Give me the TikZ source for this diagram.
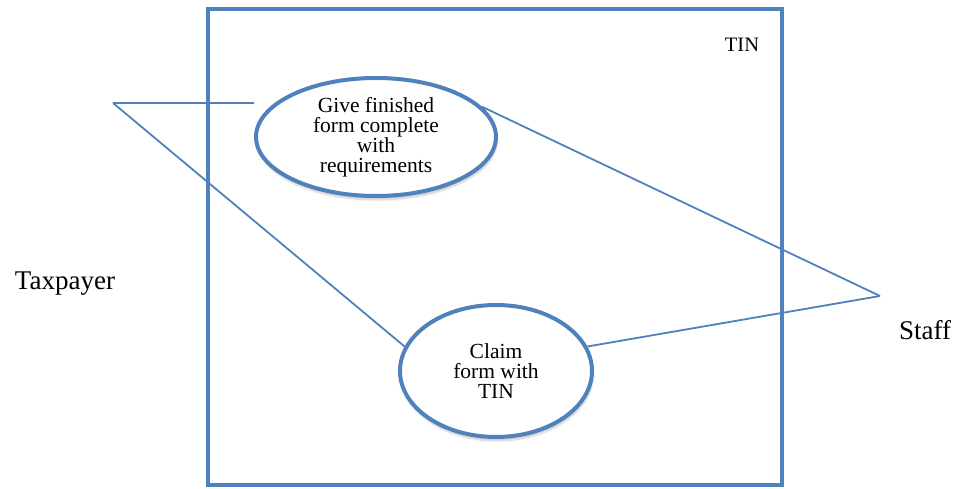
\documentclass[tikz,border=0pt]{standalone}
\usepackage{fontspec}
\setmainfont{Liberation Serif}
\usetikzlibrary{shapes.geometric,shadows.blur}
\definecolor{ucblue}{RGB}{79,129,189}
\begin{document}
\begin{tikzpicture}[
        x=1pt, y=1pt,
        system/.style={rectangle, draw=ucblue, line width=3.5pt, minimum width=574pt, minimum height=476pt, inner sep=0pt},
        usecase/.style={ellipse, draw=ucblue, fill=white, line width=4pt, inner sep=0pt, align=center,
            font=\fontsize{21.5}{20}\selectfont,
            blur shadow={shadow xshift=1pt, shadow yshift=-4pt, shadow opacity=20, shadow blur steps=6}},
        actor/.style={font=\fontsize{27}{30}\selectfont, inner sep=0pt},
        link/.style={draw=ucblue, line width=1.8pt}
    ]
    \useasboundingbox (0,0) rectangle (954,489);

    \node[system] (sys) at (495,242) {};
    \node[font=\fontsize{20.5}{24}\selectfont] (sysname) at (742,444) {TIN};

    \node[usecase, minimum width=240pt, minimum height=118pt] (give) at (376,352) {Give finished\\form complete\\with\\requirements};
    \node[usecase, minimum width=192pt, minimum height=132pt] (claim) at (496,118) {Claim\\form with\\TIN};

    \coordinate (tp) at (113,386);
    \coordinate (st) at (880,193);
    \node[actor] (taxpayer) at (65,205) {Taxpayer};
    \node[actor] (staff) at (925,159) {Staff};

    \draw[link] (tp) -- (tp -| give.west);
    \draw[link] (tp) -- (claim.165);
    \draw[link] (st) -- (give.16);
    \draw[link] (st) -- (claim.15);

    \end{tikzpicture}
\end{document}
